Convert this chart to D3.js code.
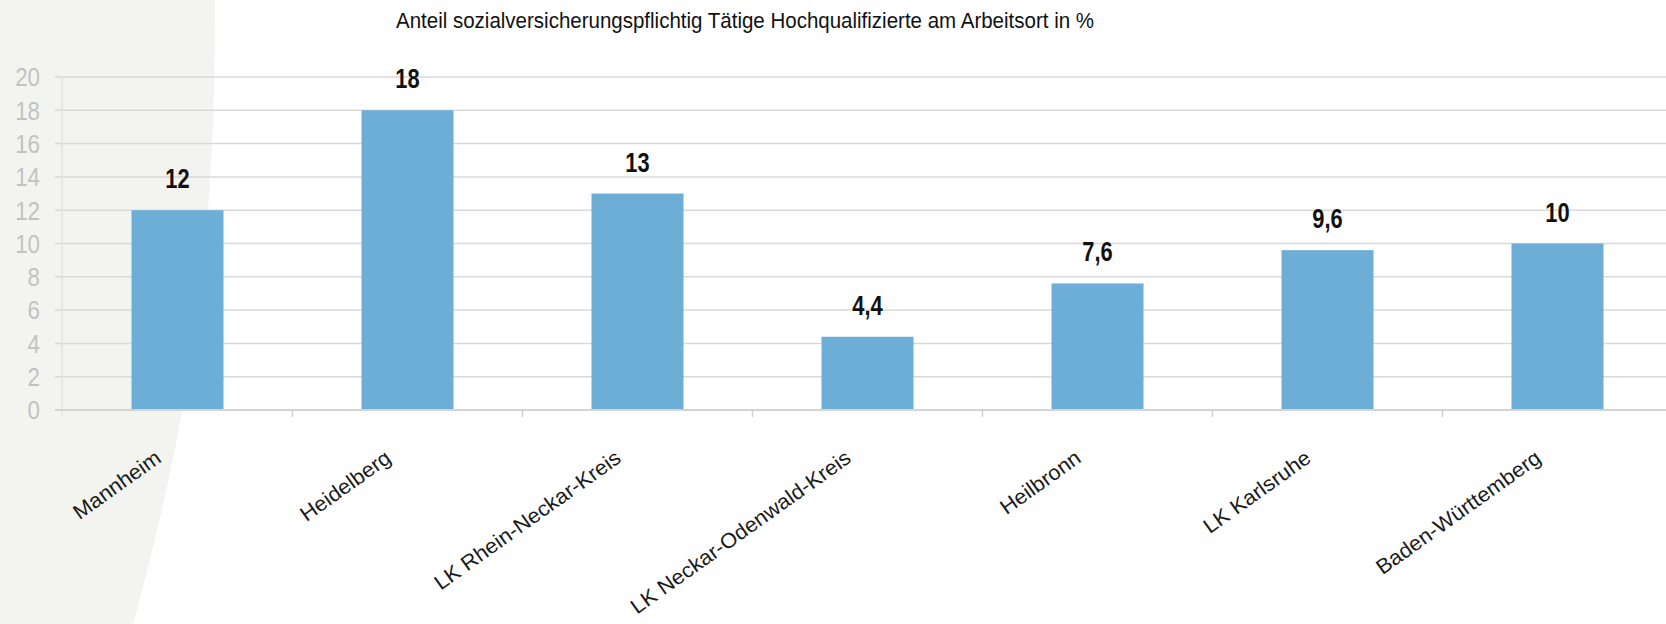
<!DOCTYPE html>
<html>
<head>
<meta charset="utf-8">
<title>Anteil Hochqualifizierte</title>
<script src="https://cdn.jsdelivr.net/npm/d3@7/dist/d3.min.js"></script>
<style>
	body { margin: 0; background: #fff; }
	svg { display: block; font-family: "Liberation Sans", Arial, sans-serif; }
	.grid line { stroke: #d9d9d9; stroke-width: 1.5px; }
	.ylab { fill: #c2c2c2; font-size: 26px; }
	.xlab { fill: #1a1a1a; font-size: 21px; }
	.val { fill: #111; font-size: 28px; font-weight: bold; }
</style>
</head>
<body>
<svg id="chart" width="1666" height="624"></svg>
<script>
var categories = ['Mannheim', 'Heidelberg', 'LK Rhein-Neckar-Kreis', 'LK Neckar-Odenwald-Kreis',
	'Heilbronn', 'LK Karlsruhe', 'Baden-Württemberg'];
var values = [12, 18, 13, 4.4, 7.6, 9.6, 10];
var valueLabels = ['12', '18', '13', '4,4', '7,6', '9,6', '10'];
var yTicks = [0, 2, 4, 6, 8, 10, 12, 14, 16, 18, 20];
var title = 'Anteil sozialversicherungspflichtig Tätige Hochqualifizierte am Arbeitsort in %';

var svg = d3.select('#chart'),
	width = +svg.attr('width'),
	height = +svg.attr('height');

// grey backdrop on the left
svg.append('path')
	.attr('d', 'M0,0 L215,0 C215,180 206,360 133,624 L0,624 Z')
	.attr('fill', '#f3f4f0');

var x = d3.scaleBand()
	.domain(categories)
	.range([62.5, 62.5 + 7 * 230])
	.paddingInner(0.6)
	.paddingOuter(0.3);

var y = d3.scaleLinear()
	.domain([0, 20])
	.range([410, 77]);

// gridlines
svg.append('g')
	.attr('class', 'grid')
	.selectAll('line')
	.data(yTicks.slice(1))
	.enter()
	.append('line')
	.attr('x1', 55).attr('x2', width)
	.attr('y1', d => y(d)).attr('y2', d => y(d));

// left axis line
svg.append('line')
	.attr('x1', 62).attr('x2', 62)
	.attr('y1', y(20)).attr('y2', y(0) + 6)
	.attr('stroke', '#e2e2e2').attr('stroke-width', 1.5);

// y labels
svg.append('g')
	.selectAll('text')
	.data(yTicks)
	.enter()
	.append('text')
	.attr('class', 'ylab')
	.attr('x', 40)
	.attr('y', d => y(d))
	.attr('dy', '0.36em')
	.attr('text-anchor', 'end')
	.text(d => d)
	.each(function () {
		var w = this.getComputedTextLength();
		d3.select(this).attr('textLength', w * 0.86).attr('lengthAdjust', 'spacingAndGlyphs');
	});

// bars
svg.append('g')
	.selectAll('rect')
	.data(values)
	.enter()
	.append('rect')
	.attr('x', (d, i) => x(categories[i]))
	.attr('y', d => y(d))
	.attr('width', x.bandwidth())
	.attr('height', d => y(0) - y(d))
	.attr('fill', '#6caed6');

// x axis line with ticks between bands
svg.append('line')
	.attr('x1', 55).attr('x2', width)
	.attr('y1', y(0)).attr('y2', y(0))
	.attr('stroke', '#d4d4d4').attr('stroke-width', 2);

svg.append('g')
	.selectAll('line')
	.data(categories.slice(1))
	.enter()
	.append('line')
	.attr('x1', d => x(d) - x.step() * x.paddingInner() / 2)
	.attr('x2', d => x(d) - x.step() * x.paddingInner() / 2)
	.attr('y1', y(0)).attr('y2', y(0) + 7)
	.attr('stroke', '#d0d0d0').attr('stroke-width', 1.5);

// value labels
svg.append('g')
	.selectAll('text')
	.data(values)
	.enter()
	.append('text')
	.attr('class', 'val')
	.attr('x', (d, i) => x(categories[i]) + x.bandwidth() / 2)
	.attr('y', d => y(d) - 22)
	.attr('text-anchor', 'middle')
	.text((d, i) => valueLabels[i])
	.each(function () {
		var w = this.getComputedTextLength();
		d3.select(this).attr('textLength', w * 0.78).attr('lengthAdjust', 'spacingAndGlyphs');
	});

// category labels, rotated
svg.append('g')
	.selectAll('text')
	.data(categories)
	.enter()
	.append('text')
	.attr('class', 'xlab')
	.attr('text-anchor', 'end')
	.attr('transform', d => 'translate(' + (x(d) + x.bandwidth() / 2 - 15) + ',461) rotate(-35.5)')
	.text(d => d)
	.each(function () {
		var w = this.getComputedTextLength();
		d3.select(this).attr('textLength', w * 1.04).attr('lengthAdjust', 'spacingAndGlyphs');
	});

// title
svg.append('text')
	.attr('x', 396)
	.attr('y', 28)
	.attr('font-size', 22)
	.attr('fill', '#111')
	.attr('textLength', 698)
	.attr('lengthAdjust', 'spacingAndGlyphs')
	.text(title);
</script>
</body>
</html>
